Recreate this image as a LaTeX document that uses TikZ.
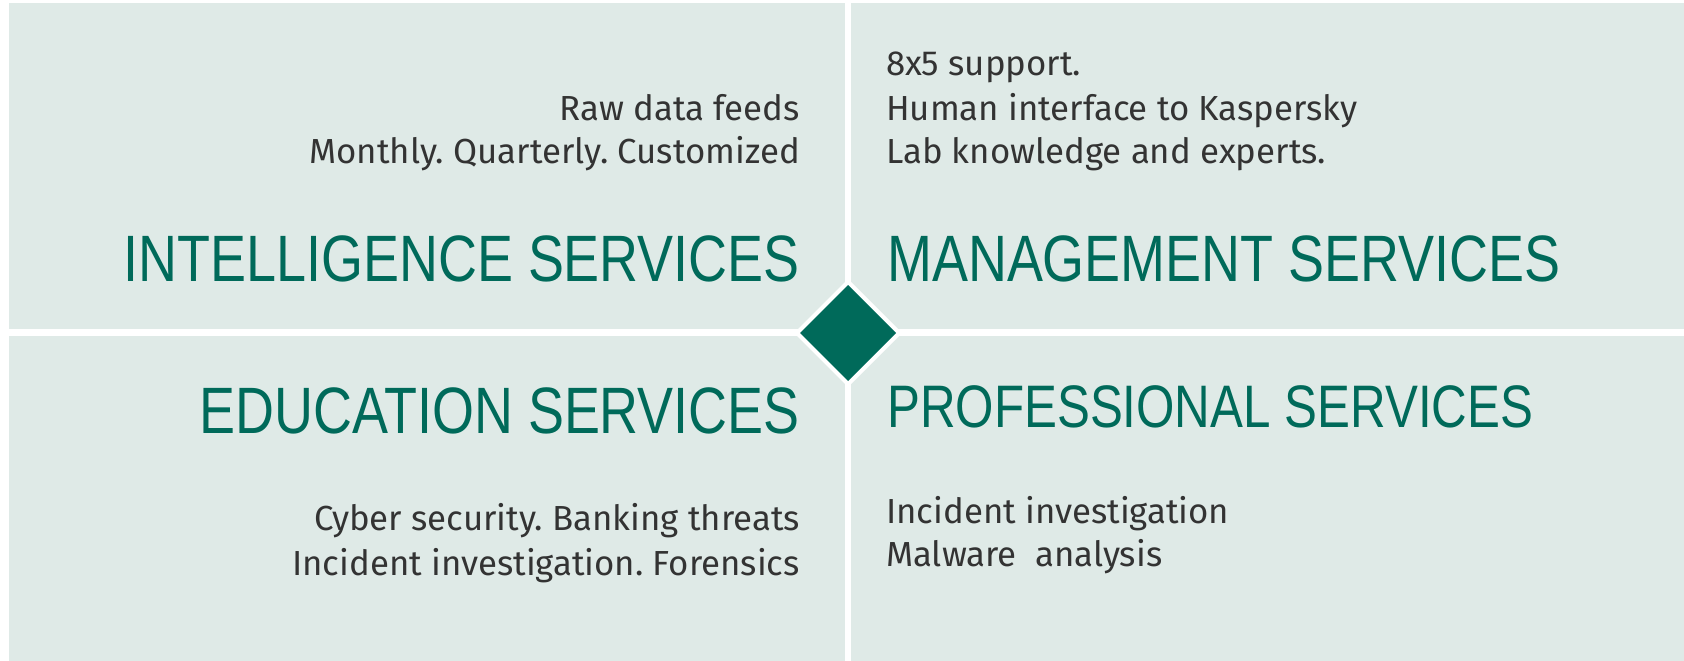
\documentclass[tikz,border=0pt]{standalone}
\usepackage{fontspec}
\setmainfont{Fira Sans}
\newfontfamily\titlefont[FakeStretch=0.822]{Liberation Sans}
\usepackage{xcolor}
\usetikzlibrary{positioning}
\definecolor{kgreen}{RGB}{0,106,90}
\definecolor{kpanel}{RGB}{223,234,231}
\definecolor{ktext}{RGB}{51,51,51}
\frenchspacing

\begin{document}
\begin{tikzpicture}[x=1pt,y=-1pt,
  panel/.style={fill=kpanel},
  title/.style={inner sep=0pt,text=kgreen,font=\titlefont\fontsize{65.6}{70}\selectfont},
  smalltitle/.style={title,font=\titlefont\fontsize{60}{64}\selectfont},
  info/.style={inner sep=0pt,text=ktext,font=\fontsize{34.8}{44}\selectfont}]
  \useasboundingbox[fill=white] (0,0) rectangle (1684,661);

  % quarters
  \fill[panel] (9,3) rectangle (845,329);
  \fill[panel] (851,3) rectangle (1684,329);
  \fill[panel] (9,336) rectangle (845,661);
  \fill[panel] (851,336) rectangle (1684,661);

  % centre diamond
  \fill[white] (848,279) -- (902,333) -- (848,387) -- (794,333) -- cycle;
  \fill[kgreen] (848,285) -- (896,333) -- (848,381) -- (800,333) -- cycle;

  % Text Node
  \node[info,anchor=base east] (rawfeeds) at (800,120) {Raw data feeds};
  \node[info,anchor=base east] (periods) at (800,163) {Monthly. Quarterly. Customized};
  \node[title,anchor=base east] (intel) at (800,281) {INTELLIGENCE SERVICES};

  % Text Node
  \node[info,anchor=base west] (support) at (886,75) {8x5 support.};
  \node[info,anchor=base west] (human) at (886,120) {Human interface to Kaspersky};
  \node[info,anchor=base west] (labexp) at (886,163) {Lab knowledge and experts.};
  \node[title,anchor=base west] (mgmt) at (887,281) {MANAGEMENT SERVICES};

  % Text Node
  \node[title,anchor=base east] (edu) at (800,433) {EDUCATION SERVICES};
  \node[info,anchor=base east] (cyber) at (800,530) {Cyber security. Banking threats};
  \node[info,anchor=base east] (forensics) at (800,575) {Incident investigation. Forensics};

  % Text Node
  \node[smalltitle,anchor=base west] (prof) at (887,427) {PROFESSIONAL SERVICES};
  \node[info,anchor=base west] (incident) at (886,523) {Incident investigation};
  \node[info,anchor=base west] (malware) at (886,566) {Malware~ analysis};
\end{tikzpicture}
\end{document}
